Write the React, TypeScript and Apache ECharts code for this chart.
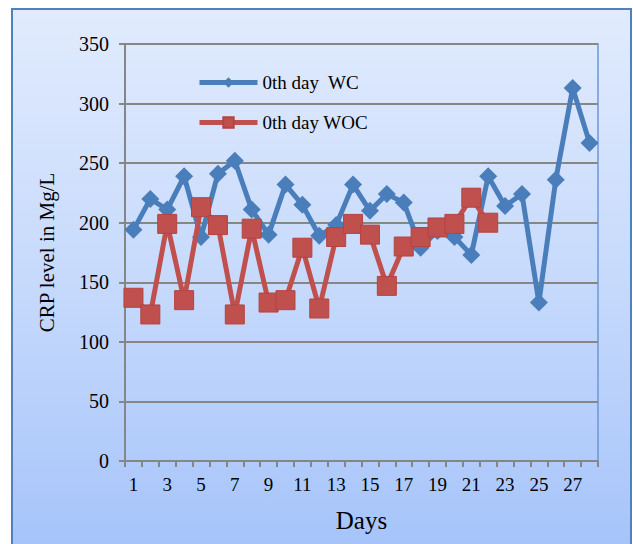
import React, { useEffect, useRef } from "react";
import * as echarts from "echarts";

const days = Array.from({ length: 28 }, (_, i) => String(i + 1));
const wcValues = [194, 220, 211, 239, 188, 241, 252, 211, 190, 232, 215, 189, 198, 232, 210, 224, 217, 179, 193, 188, 173, 239, 214, 224, 133, 236, 313, 267];
const wocValues = [137, 123, 199, 135, 213, 198, 123, 195, 133, 135, 179, 128, 188, 199, 190, 147, 180, 188, 196, 199, 221, 200];
const seriesNames = ["0th day  WC", "0th day WOC"];

export default function App() {
  const ref = useRef<HTMLDivElement>(null);
  useEffect(() => {
    if (!ref.current) return;
    const chart = echarts.init(ref.current, null, { renderer: "svg" });
    const font = "Liberation Serif";
    chart.setOption({
      animation: false,
      textStyle: { fontFamily: font },
      grid: {
        left: 112,
        top: 34,
        width: 473,
        height: 417,
        show: true,
        borderColor: "#6f97d3",
        borderWidth: 1.5,
        backgroundColor: "transparent",
      },
      legend: {
        orient: "vertical",
        left: 179,
        top: 58,
        itemWidth: 58,
        itemHeight: 13,
        itemGap: 21,
        lineStyle: { width: 5 },
        textStyle: { fontFamily: font, fontSize: 19, color: "#000" },
        data: seriesNames,
      },
      xAxis: {
        type: "category",
        data: days,
        boundaryGap: true,
        name: "Days",
        nameLocation: "middle",
        nameGap: 47,
        nameTextStyle: { fontFamily: font, fontSize: 25, color: "#000" },
        axisLine: { lineStyle: { color: "#868686", width: 2 } },
        axisTick: { show: true, interval: 0, length: 6, lineStyle: { color: "#868686", width: 2 } },
        axisLabel: { interval: 1, margin: 14, fontFamily: font, fontSize: 19, color: "#000" },
        splitLine: { show: false },
      },
      yAxis: {
        type: "value",
        min: 0,
        max: 350,
        interval: 50,
        name: "CRP level in Mg/L",
        nameLocation: "middle",
        nameGap: 68,
        nameTextStyle: { fontFamily: font, fontSize: 21, color: "#000" },
        axisLine: { show: true, lineStyle: { color: "#868686", width: 2 } },
        axisTick: { show: true, length: 6, lineStyle: { color: "#868686", width: 2 } },
        axisLabel: { margin: 16, fontFamily: font, fontSize: 20, color: "#000" },
        splitLine: { show: true, lineStyle: { color: "#868686", width: 2 } },
      },
      series: [
        {
          name: seriesNames[0],
          type: "line",
          data: wcValues,
          symbol: "diamond",
          symbolSize: 18,
          showAllSymbol: true,
          lineStyle: { color: "#4a7ebb", width: 5 },
          itemStyle: { color: "#4a7ebb" },
          z: 3,
        },
        {
          name: seriesNames[1],
          type: "line",
          data: wocValues,
          symbol: "rect",
          symbolSize: 19,
          showAllSymbol: true,
          lineStyle: { color: "#c0504d", width: 5 },
          itemStyle: { color: "#c0504d", borderColor: "#b3443f", borderWidth: 1 },
          z: 4,
        },
      ],
    });
    return () => chart.dispose();
  }, []);
  return (
    <div
      style={{
        position: "fixed",
        left: 11,
        top: 8,
        width: 621,
        height: 540,
        boxSizing: "border-box",
        border: "2px solid #4f81bd",
        background: "linear-gradient(to bottom, #e1ebfd 0%, #c7dafc 50%, #a6c4fa 100%)",
      }}
    >
      <div ref={ref} style={{ width: "100%", height: "100%" }} />
    </div>
  );
}
